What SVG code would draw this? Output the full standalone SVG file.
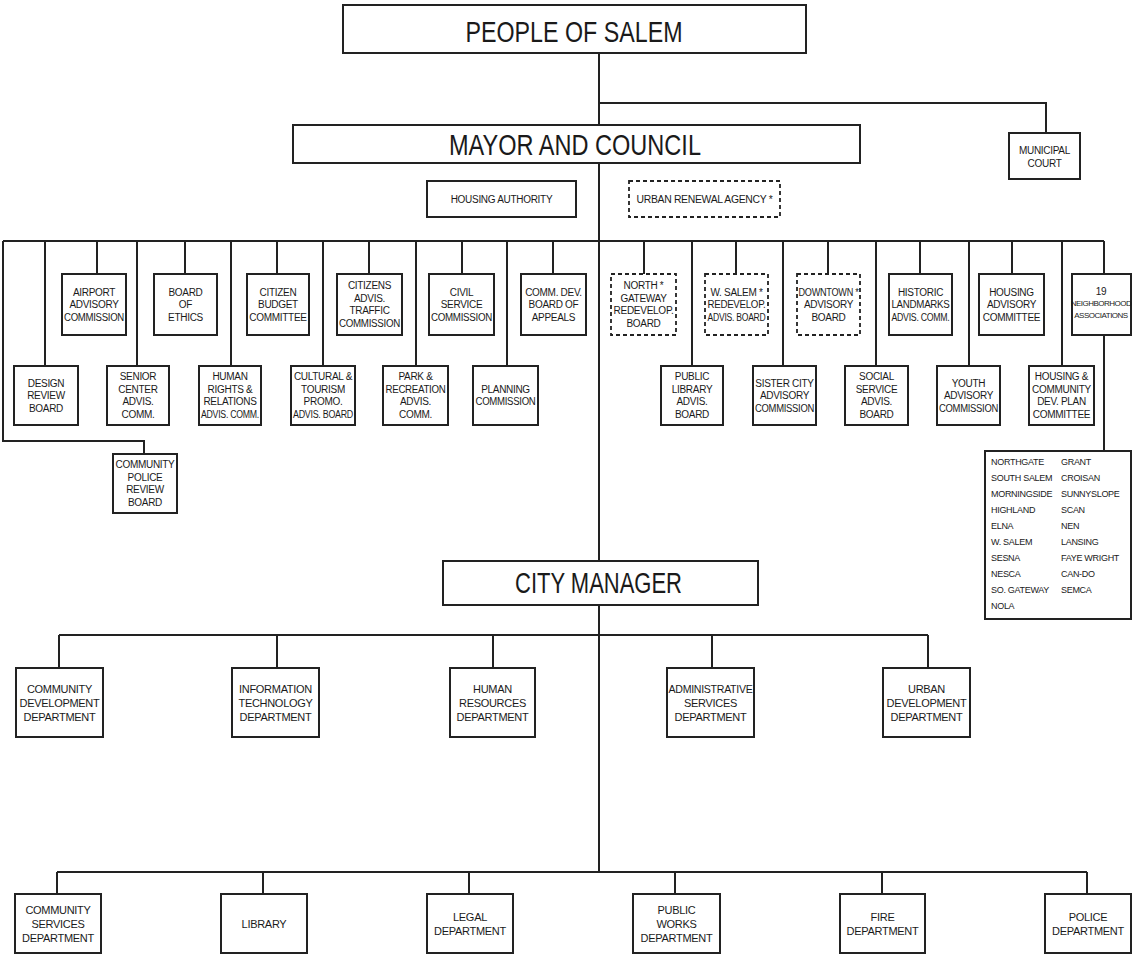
<svg xmlns="http://www.w3.org/2000/svg" width="1133" height="955" viewBox="0 0 1133 955">
<style>
.b{fill:#fff;stroke:#222;stroke-width:2}
.d{fill:#fff;stroke:#222;stroke-width:1.8;stroke-dasharray:4 3}
.c{fill:none;stroke:#222;stroke-width:2}
text{font-family:"Liberation Sans",Arial,sans-serif;fill:#1a1a1a}
.h{font-size:30px;text-anchor:middle}
.t{font-size:10px;text-anchor:middle;letter-spacing:-0.3px;dominant-baseline:central}
.s{font-size:8px;text-anchor:middle;letter-spacing:-0.5px;dominant-baseline:central}
.p{font-size:11px;text-anchor:middle;letter-spacing:-0.3px;dominant-baseline:central}
.l{font-size:9px;letter-spacing:-0.3px;dominant-baseline:central}
</style>
<rect width="1133" height="955" fill="#fff"/>
<g id="connectors">
<path class="c" d="M599 53V125M599 103H1046V133M599 163V561M599 605V872"/>
<path class="c" d="M3 241H1104M3 241V441H144V454"/>
<path class="c" d="M97 241V274M185 241V274M277 241V274M369 241V274M462 241V274M553 241V274M644 241V274M736 241V274M828 241V274M920 241V274M1012 241V274M1104 241V274"/>
<path class="c" d="M45 241V366M137 241V366M231 241V366M323 241V366M416 241V366M507 241V366M692 241V366M783 241V366M876 241V366M969 241V366M1062 241V366"/>
<path class="c" d="M1104 335V451"/>
<path class="c" d="M59 635H928M59 635V668M277 635V668M493 635V668M712 635V668M928 635V668"/>
<path class="c" d="M57 872H1087M57 872V894M263 872V894M469 872V894M675 872V894M882 872V894M1087 872V894"/>
</g>
<g id="people"><rect class="b" x="343" y="5" width="463" height="48"/><text class="h" x="574" y="42" textLength="217" lengthAdjust="spacingAndGlyphs">PEOPLE OF SALEM</text></g>
<g id="mayor"><rect class="b" x="293" y="125" width="567" height="38"/><text class="h" x="575" y="155" textLength="252" lengthAdjust="spacingAndGlyphs">MAYOR AND COUNCIL</text></g>
<g id="municipal"><rect class="b" x="1009" y="133" width="71" height="46"/><text class="t" x="1044.5" y="150">MUNICIPAL</text><text class="t" x="1044.5" y="163">COURT</text></g>
<g id="housing-authority"><rect class="b" x="427" y="181" width="149" height="36"/><text class="t" x="501.5" y="199">HOUSING AUTHORITY</text></g>
<g id="urban-renewal"><rect class="d" x="629" y="181" width="151" height="36"/><text class="t" x="704.5" y="199" textLength="136" lengthAdjust="spacingAndGlyphs">URBAN RENEWAL AGENCY *</text></g>

<g id="airport"><rect class="b" x="62" y="274" width="64" height="61"/><text class="t" x="94" y="292">AIRPORT</text><text class="t" x="94" y="304.5">ADVISORY</text><text class="t" x="94" y="317" textLength="60" lengthAdjust="spacingAndGlyphs">COMMISSION</text></g>
<g id="ethics"><rect class="b" x="154" y="274" width="63" height="61"/><text class="t" x="185.5" y="292">BOARD</text><text class="t" x="185.5" y="304.5">OF</text><text class="t" x="185.5" y="317">ETHICS</text></g>
<g id="citizen-budget"><rect class="b" x="247" y="274" width="62" height="61"/><text class="t" x="278" y="292">CITIZEN</text><text class="t" x="278" y="304.5">BUDGET</text><text class="t" x="278" y="317">COMMITTEE</text></g>
<g id="traffic"><rect class="b" x="337" y="274" width="65" height="61"/><text class="t" x="369.5" y="285.75">CITIZENS</text><text class="t" x="369.5" y="298.25">ADVIS.</text><text class="t" x="369.5" y="310.75">TRAFFIC</text><text class="t" x="369.5" y="323.25" textLength="61" lengthAdjust="spacingAndGlyphs">COMMISSION</text></g>
<g id="civil-service"><rect class="b" x="429" y="274" width="65" height="61"/><text class="t" x="461.5" y="292">CIVIL</text><text class="t" x="461.5" y="304.5">SERVICE</text><text class="t" x="461.5" y="317" textLength="61" lengthAdjust="spacingAndGlyphs">COMMISSION</text></g>
<g id="comm-dev"><rect class="b" x="521" y="274" width="65" height="61"/><text class="t" x="553.5" y="292">COMM. DEV.</text><text class="t" x="553.5" y="304.5">BOARD OF</text><text class="t" x="553.5" y="317">APPEALS</text></g>
<g id="north-gateway"><rect class="d" x="611" y="274" width="65" height="61"/><text class="t" x="643.5" y="285.75">NORTH *</text><text class="t" x="643.5" y="298.25">GATEWAY</text><text class="t" x="643.5" y="310.75" textLength="60" lengthAdjust="spacingAndGlyphs">REDEVELOP.</text><text class="t" x="643.5" y="323.25">BOARD</text></g>
<g id="w-salem"><rect class="d" x="705" y="274" width="63" height="61"/><text class="t" x="736.5" y="292">W. SALEM *</text><text class="t" x="736.5" y="304.5" textLength="58" lengthAdjust="spacingAndGlyphs">REDEVELOP.</text><text class="t" x="736.5" y="317" textLength="58" lengthAdjust="spacingAndGlyphs">ADVIS. BOARD</text></g>
<g id="downtown"><rect class="d" x="797" y="274" width="63" height="61"/><text class="t" x="828.5" y="292" textLength="60" lengthAdjust="spacingAndGlyphs">DOWNTOWN *</text><text class="t" x="828.5" y="304.5">ADVISORY</text><text class="t" x="828.5" y="317">BOARD</text></g>
<g id="historic"><rect class="b" x="889" y="274" width="63" height="61"/><text class="t" x="920.5" y="292">HISTORIC</text><text class="t" x="920.5" y="304.5" textLength="58" lengthAdjust="spacingAndGlyphs">LANDMARKS</text><text class="t" x="920.5" y="317" textLength="58" lengthAdjust="spacingAndGlyphs">ADVIS. COMM.</text></g>
<g id="housing-advisory"><rect class="b" x="979" y="274" width="65" height="61"/><text class="t" x="1011.5" y="292">HOUSING</text><text class="t" x="1011.5" y="304.5">ADVISORY</text><text class="t" x="1011.5" y="317">COMMITTEE</text></g>
<g id="neighborhood"><rect class="b" x="1072" y="274" width="59" height="61"/><text class="t" x="1101" y="291">19</text><text class="s" x="1101" y="303">NEIGHBORHOOD</text><text class="s" x="1101" y="315">ASSOCIATIONS</text></g>

<g id="design-review"><rect class="b" x="14" y="366" width="64" height="59"/><text class="t" x="46" y="383">DESIGN</text><text class="t" x="46" y="395.5">REVIEW</text><text class="t" x="46" y="408">BOARD</text></g>
<g id="senior"><rect class="b" x="107" y="366" width="62" height="59"/><text class="t" x="138" y="376.75">SENIOR</text><text class="t" x="138" y="389.25">CENTER</text><text class="t" x="138" y="401.75">ADVIS.</text><text class="t" x="138" y="414.25">COMM.</text></g>
<g id="human-rights"><rect class="b" x="199" y="366" width="62" height="59"/><text class="t" x="230" y="376.75">HUMAN</text><text class="t" x="230" y="389.25">RIGHTS &amp;</text><text class="t" x="230" y="401.75">RELATIONS</text><text class="t" x="230" y="414.25" textLength="58" lengthAdjust="spacingAndGlyphs">ADVIS. COMM.</text></g>
<g id="cultural"><rect class="b" x="291" y="366" width="64" height="59"/><text class="t" x="323" y="376.75">CULTURAL &amp;</text><text class="t" x="323" y="389.25">TOURISM</text><text class="t" x="323" y="401.75">PROMO.</text><text class="t" x="323" y="414.25" textLength="60" lengthAdjust="spacingAndGlyphs">ADVIS. BOARD</text></g>
<g id="park"><rect class="b" x="383" y="366" width="65" height="59"/><text class="t" x="415.5" y="376.75">PARK &amp;</text><text class="t" x="415.5" y="389.25" textLength="60" lengthAdjust="spacingAndGlyphs">RECREATION</text><text class="t" x="415.5" y="401.75">ADVIS.</text><text class="t" x="415.5" y="414.25">COMM.</text></g>
<g id="planning"><rect class="b" x="473" y="366" width="65" height="59"/><text class="t" x="505.5" y="389.25">PLANNING</text><text class="t" x="505.5" y="401.75" textLength="60" lengthAdjust="spacingAndGlyphs">COMMISSION</text></g>
<g id="public-library-board"><rect class="b" x="661" y="366" width="62" height="59"/><text class="t" x="692" y="376.75">PUBLIC</text><text class="t" x="692" y="389.25">LIBRARY</text><text class="t" x="692" y="401.75">ADVIS.</text><text class="t" x="692" y="414.25">BOARD</text></g>
<g id="sister-city"><rect class="b" x="753" y="366" width="63" height="59"/><text class="t" x="784.5" y="383">SISTER CITY</text><text class="t" x="784.5" y="395.5">ADVISORY</text><text class="t" x="784.5" y="408" textLength="59" lengthAdjust="spacingAndGlyphs">COMMISSION</text></g>
<g id="social-service"><rect class="b" x="845" y="366" width="63" height="59"/><text class="t" x="876.5" y="376.75">SOCIAL</text><text class="t" x="876.5" y="389.25">SERVICE</text><text class="t" x="876.5" y="401.75">ADVIS.</text><text class="t" x="876.5" y="414.25">BOARD</text></g>
<g id="youth"><rect class="b" x="937" y="366" width="63" height="59"/><text class="t" x="968.5" y="383">YOUTH</text><text class="t" x="968.5" y="395.5">ADVISORY</text><text class="t" x="968.5" y="408" textLength="59" lengthAdjust="spacingAndGlyphs">COMMISSION</text></g>
<g id="housing-community"><rect class="b" x="1029" y="366" width="65" height="59"/><text class="t" x="1061.5" y="376.75">HOUSING &amp;</text><text class="t" x="1061.5" y="389.25">COMMUNITY</text><text class="t" x="1061.5" y="401.75">DEV. PLAN</text><text class="t" x="1061.5" y="414.25">COMMITTEE</text></g>
<g id="police-review"><rect class="b" x="113" y="454" width="64" height="59"/><text class="t" x="145" y="464.75">COMMUNITY</text><text class="t" x="145" y="477.25">POLICE</text><text class="t" x="145" y="489.75">REVIEW</text><text class="t" x="145" y="502.25">BOARD</text></g>

<g id="neighborhood-list"><rect class="b" x="985" y="451" width="146" height="168"/>
<text class="l" x="991" y="462">NORTHGATE</text><text class="l" x="991" y="478">SOUTH SALEM</text><text class="l" x="991" y="494">MORNINGSIDE</text><text class="l" x="991" y="510">HIGHLAND</text><text class="l" x="991" y="526">ELNA</text><text class="l" x="991" y="542">W. SALEM</text><text class="l" x="991" y="558">SESNA</text><text class="l" x="991" y="574">NESCA</text><text class="l" x="991" y="590">SO. GATEWAY</text><text class="l" x="991" y="606">NOLA</text>
<text class="l" x="1061" y="462">GRANT</text><text class="l" x="1061" y="478">CROISAN</text><text class="l" x="1061" y="494">SUNNYSLOPE</text><text class="l" x="1061" y="510">SCAN</text><text class="l" x="1061" y="526">NEN</text><text class="l" x="1061" y="542">LANSING</text><text class="l" x="1061" y="558">FAYE WRIGHT</text><text class="l" x="1061" y="574">CAN-DO</text><text class="l" x="1061" y="590">SEMCA</text>
</g>

<g id="city-manager"><rect class="b" x="443" y="561" width="315" height="44"/><text class="h" x="598.5" y="593" textLength="167" lengthAdjust="spacingAndGlyphs">CITY MANAGER</text></g>

<g id="community-development"><rect class="b" x="16" y="668" width="87" height="69"/><text class="p" x="59.5" y="688.5">COMMUNITY</text><text class="p" x="59.5" y="702.5">DEVELOPMENT</text><text class="p" x="59.5" y="716.5">DEPARTMENT</text></g>
<g id="information-technology"><rect class="b" x="232" y="668" width="87" height="69"/><text class="p" x="275.5" y="688.5">INFORMATION</text><text class="p" x="275.5" y="702.5">TECHNOLOGY</text><text class="p" x="275.5" y="716.5">DEPARTMENT</text></g>
<g id="human-resources"><rect class="b" x="450" y="668" width="85" height="69"/><text class="p" x="492.5" y="688.5">HUMAN</text><text class="p" x="492.5" y="702.5">RESOURCES</text><text class="p" x="492.5" y="716.5">DEPARTMENT</text></g>
<g id="administrative-services"><rect class="b" x="667" y="668" width="87" height="69"/><text class="p" x="710.5" y="688.5" textLength="84" lengthAdjust="spacingAndGlyphs">ADMINISTRATIVE</text><text class="p" x="710.5" y="702.5">SERVICES</text><text class="p" x="710.5" y="716.5">DEPARTMENT</text></g>
<g id="urban-development"><rect class="b" x="883" y="668" width="87" height="69"/><text class="p" x="926.5" y="688.5">URBAN</text><text class="p" x="926.5" y="702.5">DEVELOPMENT</text><text class="p" x="926.5" y="716.5">DEPARTMENT</text></g>

<g id="community-services"><rect class="b" x="15" y="894" width="86" height="59"/><text class="p" x="58" y="909.5">COMMUNITY</text><text class="p" x="58" y="923.5">SERVICES</text><text class="p" x="58" y="937.5">DEPARTMENT</text></g>
<g id="library"><rect class="b" x="221" y="894" width="86" height="59"/><text class="p" x="264" y="923.5">LIBRARY</text></g>
<g id="legal"><rect class="b" x="427" y="894" width="86" height="59"/><text class="p" x="470" y="916.5">LEGAL</text><text class="p" x="470" y="930.5">DEPARTMENT</text></g>
<g id="public-works"><rect class="b" x="633" y="894" width="87" height="59"/><text class="p" x="676.5" y="909.5">PUBLIC</text><text class="p" x="676.5" y="923.5">WORKS</text><text class="p" x="676.5" y="937.5">DEPARTMENT</text></g>
<g id="fire"><rect class="b" x="840" y="894" width="85" height="59"/><text class="p" x="882.5" y="916.5">FIRE</text><text class="p" x="882.5" y="930.5">DEPARTMENT</text></g>
<g id="police"><rect class="b" x="1045" y="894" width="86" height="59"/><text class="p" x="1088" y="916.5">POLICE</text><text class="p" x="1088" y="930.5">DEPARTMENT</text></g>
</svg>
